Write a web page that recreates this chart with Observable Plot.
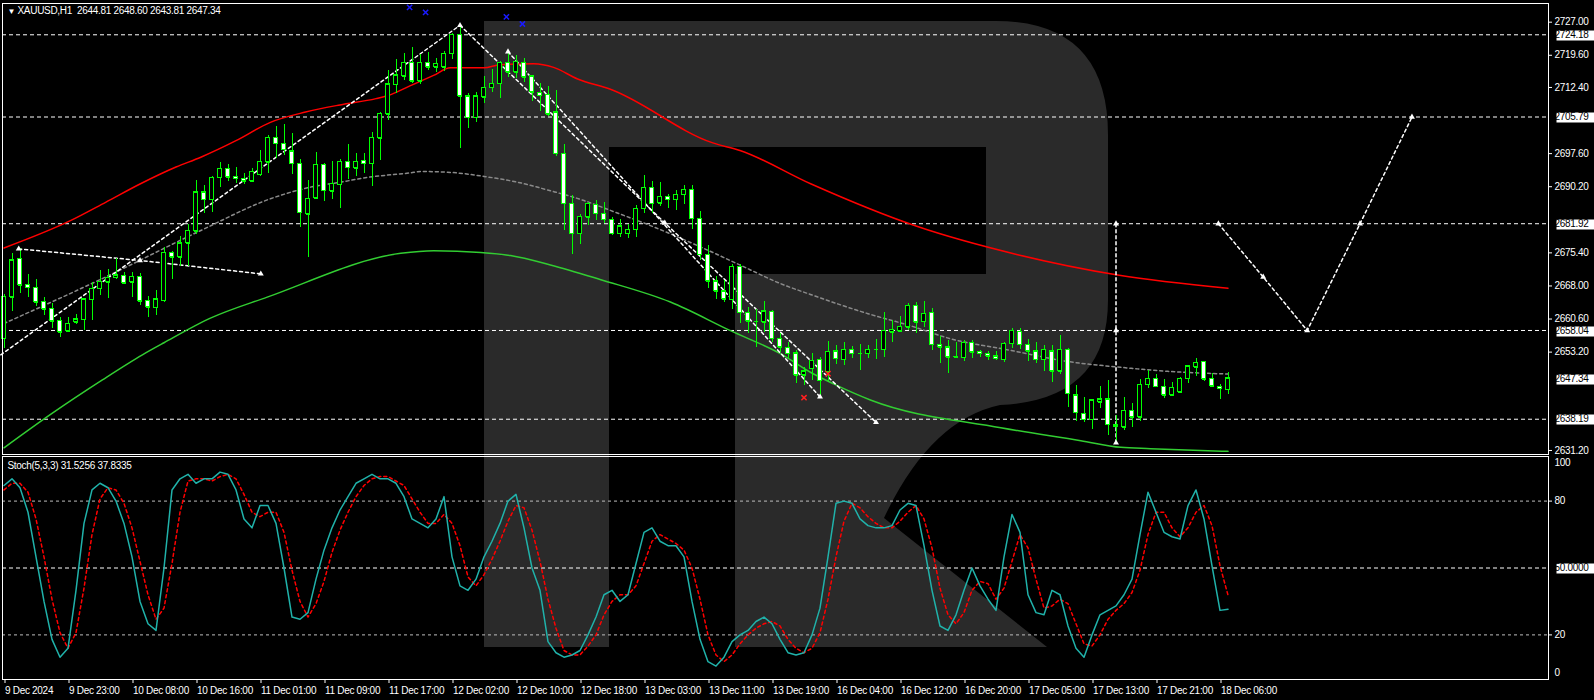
<!DOCTYPE html>
<html><head><meta charset="utf-8">
<script src="https://cdn.jsdelivr.net/npm/d3@7"></script>
<script src="https://cdn.jsdelivr.net/npm/@observablehq/plot@0.6"></script>
<style>
html,body{margin:0;padding:0;background:#000;}
#wrap{position:relative;width:1594px;height:700px;overflow:hidden;background:#000;}
#wm{position:absolute;left:0;top:0;}
#main{position:absolute;left:0;top:0;}
#stoch{position:absolute;left:0;top:455px;}
</style></head><body>
<div id="wrap">
<svg id="wm" width="1594" height="700"><path fill="#2a2a2a" fill-rule="evenodd" d="M484,21 H995 Q1108,21 1108,135 V300 Q1108,400 1000,405 Q930,420 884,518 L1047,647 H735 V274 H609 V647 H484 Z M609,147 H986 V274 H609 Z"/></svg>
<div id="main"></div><div id="stoch"></div>
</div>
<script>
// ---------- DATA ----------
const opens = [2656.2,2665.5,2674.1,2668.3,2667.6,2664.5,2662.9,2660.2,2657.9,2659.9,2660.4,2664.9,2667.4,2668.8,2669.8,2670.3,2668.8,2670.1,2664.7,2663.1,2664.7,2675.4,2674.4,2677.6,2680.2,2689.0,2687.3,2692.2,2694.2,2692.4,2692.0,2691.4,2692.9,2695.7,2701.1,2699.8,2698.1,2695.3,2684.0,2687.6,2695.1,2689.2,2690.6,2695.8,2694.3,2696.0,2695.3,2701.0,2706.4,2713.0,2714.9,2717.9,2713.8,2717.9,2716.9,2716.9,2719.9,2724.2,2710.4,2705.6,2710.2,2712.3,2713.2,2717.9,2715.8,2717.9,2714.9,2711.2,2710.8,2706.8,2697.6,2686.4,2679.7,2683.4,2686.2,2684.1,2682.8,2679.7,2679.7,2680.6,2685.3,2690.0,2686.5,2687.9,2687.3,2688.4,2689.5,2683.0,2675.0,2669.0,2666.8,2664.9,2672.3,2662.0,2660.1,2659.9,2662.2,2656.2,2654.2,2653.0,2648.0,2649.5,2651.5,2648.7,2653.4,2651.5,2653.7,2653.0,2652.8,2653.7,2653.7,2657.6,2657.9,2658.8,2663.6,2660.0,2662.0,2654.8,2654.3,2652.1,2651.9,2655.3,2653.3,2652.8,2652.3,2651.5,2655.1,2657.8,2654.8,2653.4,2651.5,2653.4,2648.9,2653.7,2643.6,2639.4,2638.1,2642.0,2642.7,2636.5,2636.4,2640.1,2638.6,2645.9,2647.2,2645.4,2643.6,2644.2,2647.2,2649.8,2651.1,2647.2,2645.5,2644.81];
const highs = [2666.2,2675.2,2676.3,2670.6,2669.4,2665.5,2664.1,2661.0,2660.9,2661.6,2665.3,2668.7,2671.4,2671.7,2674.1,2671.0,2671.0,2670.7,2665.6,2667.0,2676.7,2675.6,2679.1,2681.7,2691.7,2690.4,2692.5,2695.7,2695.1,2694.5,2693.2,2694.2,2698.3,2701.6,2703.7,2704.1,2702.0,2696.3,2691.6,2697.9,2695.5,2695.8,2696.3,2699.6,2697.6,2697.6,2702.4,2706.9,2716.2,2718.6,2720.1,2721.3,2719.7,2720.2,2718.9,2720.4,2724.5,2726.0,2711.0,2711.2,2714.9,2716.4,2718.3,2720.2,2719.5,2718.9,2715.1,2713.2,2712.6,2711.7,2699.6,2688.2,2684.0,2686.7,2687.1,2686.7,2683.4,2682.8,2681.7,2686.0,2692.7,2691.4,2691.1,2688.5,2689.4,2690.5,2690.5,2684.7,2677.0,2670.1,2669.2,2672.9,2672.9,2663.2,2662.7,2664.5,2662.5,2657.3,2655.3,2653.6,2649.8,2653.0,2651.9,2655.6,2654.6,2655.3,2654.5,2654.8,2654.7,2656.0,2662.0,2660.3,2661.1,2664.1,2664.2,2664.5,2662.9,2656.8,2655.8,2655.3,2655.8,2655.8,2653.6,2653.3,2653.3,2655.4,2658.4,2658.4,2656.0,2655.3,2654.7,2654.7,2656.9,2653.9,2645.7,2643.0,2642.6,2645.5,2646.8,2639.0,2643.0,2641.8,2647.1,2649.1,2648.2,2647.1,2646.3,2647.5,2650.2,2651.8,2651.2,2648.5,2645.9,2648.60];
const lows = [2654.0,2662.3,2666.4,2665.5,2663.5,2661.4,2658.4,2656.5,2657.6,2659.4,2658.0,2660.3,2665.9,2665.3,2669.4,2668.3,2665.5,2663.6,2661.0,2661.4,2664.2,2669.4,2672.4,2672.4,2679.4,2684.1,2684.4,2690.1,2691.4,2691.0,2690.8,2691.2,2692.5,2693.2,2696.4,2697.2,2692.9,2681.1,2674.4,2687.3,2686.8,2687.3,2685.3,2691.8,2692.5,2693.2,2690.3,2696.1,2704.9,2711.0,2714.0,2713.2,2713.0,2716.2,2715.7,2716.0,2718.6,2698.7,2703.3,2704.6,2708.9,2711.3,2709.9,2714.7,2714.3,2713.4,2709.3,2707.1,2705.8,2697.0,2680.4,2675.0,2677.2,2681.5,2682.6,2681.9,2679.3,2678.8,2678.7,2678.9,2684.1,2684.1,2685.8,2685.3,2684.9,2686.2,2680.6,2673.7,2667.4,2664.9,2664.2,2662.7,2659.5,2657.3,2654.3,2657.6,2655.4,2653.2,2651.8,2646.2,2645.7,2646.8,2643.5,2646.6,2650.4,2650.2,2651.7,2649.2,2651.7,2651.5,2652.1,2655.4,2657.9,2658.0,2657.3,2658.6,2653.6,2650.7,2648.5,2651.9,2651.2,2651.8,2651.9,2651.3,2651.3,2650.9,2653.9,2653.7,2651.2,2650.7,2648.9,2646.3,2648.2,2640.8,2637.7,2637.5,2635.9,2640.6,2634.5,2632.9,2635.6,2636.4,2637.7,2645.0,2645.2,2642.9,2643.3,2644.1,2646.2,2647.7,2646.7,2645.2,2642.6,2643.81];
const closes = [2665.6,2673.8,2668.2,2667.6,2664.4,2662.8,2660.1,2657.6,2659.5,2660.5,2665.0,2667.4,2668.9,2669.8,2670.4,2668.6,2670.1,2664.6,2663.2,2665.0,2675.4,2674.4,2677.6,2680.4,2689.0,2687.3,2692.2,2694.2,2692.3,2692.0,2691.4,2693.6,2695.8,2701.1,2699.8,2698.5,2695.3,2684.4,2687.5,2695.1,2689.3,2690.9,2695.8,2694.4,2695.8,2695.3,2701.1,2706.5,2713.1,2715.1,2717.9,2713.8,2717.9,2716.9,2717.7,2719.9,2724.2,2710.4,2705.6,2710.4,2712.3,2713.2,2717.9,2715.8,2718.1,2714.7,2711.3,2710.6,2706.4,2697.6,2686.4,2679.7,2683.5,2686.4,2684.1,2682.8,2679.7,2681.3,2680.6,2685.3,2690.0,2686.4,2687.9,2687.3,2688.4,2689.5,2683.0,2675.0,2669.0,2666.8,2665.0,2672.3,2662.0,2660.1,2660.1,2662.3,2656.2,2654.3,2652.8,2648.0,2648.9,2651.3,2646.8,2653.3,2651.7,2653.7,2652.8,2653.0,2653.7,2653.7,2658.0,2658.2,2658.9,2663.6,2659.9,2661.8,2654.8,2654.3,2652.1,2652.2,2655.3,2653.2,2652.8,2652.3,2651.7,2655.1,2658.0,2654.8,2653.4,2651.5,2653.7,2648.9,2653.7,2643.9,2639.6,2638.1,2642.4,2642.7,2636.9,2636.8,2640.1,2638.6,2645.9,2647.2,2645.5,2643.6,2645.2,2647.2,2650.0,2650.8,2647.1,2645.6,2645.0,2647.34];

const stochK = [87,90,86,75,55,35,18,10,14,40, 70,85,88,86,80,70,55,35,25,22, 50,85,90,92,88,90,90,93,92,85, 72,68,78,78,70,50,28,27,30,45, 58,68,76,82,88,90,92,90,90,88, 82,72,70,68,72,82,55,42,40,45, 55,62,70,80,83,68,50,40,17,12, 10,11,13,20,28,38,40,35,38,52, 66,68,62,60,60,55,35,18,8,6, 10,17,20,22,26,28,25,18,12,11, 12,20,32,55,79,80,79,72,69,68, 68,69,76,79,78,60,40,24,22,29, 40,50,42,36,31,55,74,66,38,30, 29,40,38,24,14,10,20,29,31,33, 38,45,65,84,75,66,64,63,78,85, 72,51,31,31.5256];
const stochD = [85,88,88,84,72,55,36,21,14,21, 41,65,81,86,85,79,68,53,38,27, 32,52,75,89,90,90,89,91,92,90, 83,75,73,75,75,66,49,35,28,34, 44,57,67,75,82,87,90,91,91,89, 87,81,75,70,70,74,70,60,46,42, 47,54,62,71,78,77,67,53,36,23, 13,11,11,15,20,29,35,38,38,42, 52,62,65,63,61,58,50,36,20,11, 8,11,16,20,23,25,26,24,18,14, 12,14,21,36,55,71,79,77,73,70, 68,68,71,75,78,72,59,41,29,25, 30,40,44,43,36,41,53,65,59,45, 32,33,36,34,25,16,15,20,27,31, 34,39,49,65,75,75,68,64,68,75, 78,69,51,37.8335];

// moving averages read at sample bars
const maRedIdx = [0,8.3,12.7,17,21.5,24.6,29,33.3,37.7,42,46.5,48,50.8,53.7,55.8,60,62,66.2,68.7,71.7,75.8,88.6,92,100.9,114,126.7,139.4,153];
const maRedVal = [2676.5,2682.6,2686.7,2690.8,2694.6,2696.8,2700.5,2704.6,2706.9,2708.5,2709.9,2710.6,2712.8,2715.1,2716.8,2716.8,2717.5,2717.7,2716.9,2714.3,2712.0,2700.0,2698.3,2690.8,2681.4,2675.0,2670.4,2667.5];
const maGreenIdx = [0,6,12.3,17.3,20,25.8,32.9,49.6,53.7,59.6,63.3,68.3,74.6,83.3,90.8,97.1,100.8,103.7,108.3,124.6,134.6,139.6,143.3,153];
const maGreenVal = [2631.8,2639.5,2647.0,2652.6,2655.3,2660.8,2665.5,2675.3,2675.9,2675.5,2674.8,2672.7,2669.4,2664.4,2658.0,2652.8,2648.7,2646.1,2642.5,2636.3,2633.4,2631.9,2631.6,2631.0];
const maGreyIdx = [0,12.7,24.6,33.3,38.3,42,45.5,50.8,52.1,55.8,60,64.2,68.3,72.5,75.8,80.8,87.1,92.1,97.1,100.8,108,113.3,118.3,125.8,133,139.6,145.5,153];
const maGreyVal = [2659.6,2670.0,2680.4,2687.5,2690.1,2691.2,2692.3,2693.3,2693.6,2693.4,2692.5,2691.2,2689.3,2687.1,2684.9,2681.5,2676.7,2672.6,2668.5,2666.1,2661.8,2659.1,2656.2,2653.6,2651.1,2649.8,2648.9,2648.3];

// analysis lines
const trend1 = [[1.84,2676.3],[17,2673.7],[32.1,2670.7]];
const trend2 = [[-0.4,2652.6],[57,2726.3]];
const trend3 = [[57,2726.3],[82.6,2682.1],[109,2637.5]];
const trend4 = [[63,2720.4],[102,2643.2]];
const vline  = [[139,2681.92],[139,2658.04],[139,2632.9]];
const forecast = [[151.8,2681.92],[157.4,2670.0],[162.9,2658.04],[169.5,2681.92],[176,2705.79]];
const blueMarks = [[50.7,2730.3],[52.7,2729.2],[62.8,2728.2],[64.8,2726.6]];
const redMarks = [[100,2643.0],[103,2648.4]];

const levels = [2724.18,2705.79,2681.92,2658.04,2638.19];
const lastPrice = 2647.34;
const priceTicks = [2727.00,2719.60,2712.40,2697.60,2690.20,2675.40,2668.00,2660.60,2653.20,2631.20];
const xTickIdx = [0,8,16,24,32,40,48,56,64,72,80,88,96,104,112,120,128,136,144,152];
const xTickLabels = ["9 Dec 2024","9 Dec 23:00","10 Dec 08:00","10 Dec 16:00","11 Dec 01:00","11 Dec 09:00","11 Dec 17:00","12 Dec 02:00","12 Dec 10:00","12 Dec 18:00","13 Dec 03:00","13 Dec 11:00","13 Dec 19:00","16 Dec 04:00","16 Dec 12:00","16 Dec 20:00","17 Dec 05:00","17 Dec 13:00","17 Dec 21:00","18 Dec 06:00"];
const titleText = "XAUUSD,H1\u00a0\u00a02644.81 2648.60 2643.81 2647.34";
const stochTitle = "Stoch(5,3,3) 31.5256 37.8335";

// ---------- BUILD ----------
const X_DOMAIN = [-0.1875, 193.0625];
const GREEN = "#00ff00";
const bars = opens.map((o, i) => ({i, o, h: highs[i], l: lows[i], c: closes[i]}));
const pts = (idx, val) => idx.map((x, k) => ({x, y: val[k]}));
const pairs = a => a.map(([x, y]) => ({x, y}));
const font = {fontFamily: "'Liberation Sans', Arial, sans-serif", fontSize: "10px", background: "transparent", color: "#fff", letterSpacing: "-0.3px"};

const main = Plot.plot({
  width: 1594, height: 455,
  marginLeft: 2, marginRight: 46, marginTop: 3, marginBottom: 1,
  x: {domain: X_DOMAIN, axis: null},
  y: {domain: [2630.30, 2731.18], axis: null},
  color: {type: "identity"},
  style: font,
  marks: [
    Plot.ruleY(levels, {stroke: "#fff", strokeDasharray: "4,3"}),
    Plot.line(pts(maGreyIdx, maGreyVal), {x: "x", y: "y", stroke: "#8a8a8a", strokeDasharray: "3,3", curve: "monotone-x"}),
    Plot.line(pts(maRedIdx, maRedVal), {x: "x", y: "y", stroke: "#ff0000", curve: "monotone-x"}),
    Plot.line(pts(maGreenIdx, maGreenVal), {x: "x", y: "y", stroke: "#32cd32", curve: "monotone-x"}),
    ...[trend1, trend2, trend3, trend4, vline, forecast].map(t => Plot.line(pairs(t), {x: "x", y: "y", stroke: "#fff", strokeDasharray: "3,3"})),
    Plot.ruleX(bars, {x: "i", y1: "l", y2: "h", stroke: GREEN, shapeRendering: "crispEdges"}),
    Plot.rect(bars, {x1: d => d.i - 0.25, x2: d => d.i + 0.25, y1: "o", y2: "c", fill: d => d.c >= d.o ? "#000" : "#fff", stroke: GREEN, shapeRendering: "crispEdges"}),
    Plot.ruleY(bars, {y: "o", x1: d => d.i - 0.25, x2: d => d.i + 0.25, stroke: GREEN, shapeRendering: "crispEdges"}),
    Plot.ruleY(bars, {y: "c", x1: d => d.i - 0.25, x2: d => d.i + 0.25, stroke: GREEN, shapeRendering: "crispEdges"}),
    Plot.dot(pairs([trend1[0], trend1[1], trend1[2], trend2[1], trend3[1], trend3[2], trend4[0], trend4[1], ...vline, ...forecast]), {x: "x", y: "y", symbol: "triangle", r: 2.2, fill: "#fff"}),
    Plot.dot(pairs(blueMarks), {x: "x", y: "y", symbol: "times", r: 2.5, stroke: "#1a1aff", strokeWidth: 1.5}),
    Plot.dot(pairs(redMarks), {x: "x", y: "y", symbol: "times", r: 2.5, stroke: "#ff2020", strokeWidth: 1.5}),
    Plot.frame({stroke: "#fff", shapeRendering: "crispEdges"}),
    Plot.axisY({anchor: "right", ticks: priceTicks, tickFormat: d => d.toFixed(2), tickSize: 3, tickPadding: 3, label: null, color: "#fff"}),
    Plot.text([...levels, lastPrice], {y: d => d, text: d => d.toFixed(2), frameAnchor: "right", textAnchor: "start", dx: 6, fill: "#000", ariaDescription: "hl"}),
    Plot.text(["\u25BC"], {frameAnchor: "top-left", dx: 5, dy: 7.5, fontSize: 8, textAnchor: "start", lineAnchor: "middle", fill: "#fff"}),
    Plot.text([titleText], {frameAnchor: "top-left", dx: 15, dy: 7.7, textAnchor: "start", lineAnchor: "middle", fill: "#fff"})
  ]
});

const sdata = stochK.map((k, i) => ({i, k, d: stochD[i]}));
const stoch = Plot.plot({
  width: 1594, height: 245,
  marginLeft: 2, marginRight: 46, marginTop: 1, marginBottom: 21,
  x: {domain: X_DOMAIN, axis: null},
  y: {domain: [0, 100], axis: null},
  style: font,
  marks: [
    Plot.ruleY([80, 20], {stroke: "#bdbdbd", strokeDasharray: "3,3"}),
    Plot.ruleY([50], {stroke: "#fff", strokeDasharray: "4,3"}),
    Plot.line(sdata, {x: "i", y: "d", stroke: "#ff0000", strokeDasharray: "3,3"}),
    Plot.line(sdata, {x: "i", y: "k", stroke: "#20b2aa"}),
    Plot.frame({stroke: "#fff", shapeRendering: "crispEdges"}),
    Plot.axisY({anchor: "right", ticks: [80, 20], tickSize: 3, tickPadding: 3, label: null, color: "#fff"}),
    Plot.text([100], {y: d => d, text: d => String(d), frameAnchor: "right", textAnchor: "start", dx: 6, dy: 6, fill: "#fff"}),
    Plot.text([0], {y: d => d, text: d => String(d), frameAnchor: "right", textAnchor: "start", dx: 6, dy: -7, fill: "#fff"}),
    Plot.text([50], {y: d => d, text: d => d.toFixed(4), frameAnchor: "right", textAnchor: "start", dx: 6, fill: "#000", ariaDescription: "hl"}),
    Plot.axisX({anchor: "bottom", ticks: xTickIdx, tickFormat: d => xTickLabels[xTickIdx.indexOf(d)], tickSize: 4, tickPadding: 3, textAnchor: "start", dx: 1, label: null, color: "#fff"}),
    Plot.text([stochTitle], {frameAnchor: "top-left", dx: 5, dy: 9, textAnchor: "start", lineAnchor: "middle", fill: "#fff"})
  ]
});

document.getElementById("main").appendChild(main);
document.getElementById("stoch").appendChild(stoch);

function boxLabels(svg) {
  const sr = svg.getBoundingClientRect();
  svg.querySelectorAll('g[aria-description="hl"] text').forEach(t => {
    const r = t.getBoundingClientRect();
    const rect = document.createElementNS("http://www.w3.org/2000/svg", "rect");
    rect.setAttribute("x", 1550);
    rect.setAttribute("width", 41);
    rect.setAttribute("y", Math.round(r.top - sr.top) + 1);
    rect.setAttribute("height", Math.max(8, Math.round(r.height) - 1));
    rect.setAttribute("fill", "#fff");
    t.parentNode.insertBefore(rect, t);
  });
}
boxLabels(main);
boxLabels(stoch);
</script>
</body></html>
